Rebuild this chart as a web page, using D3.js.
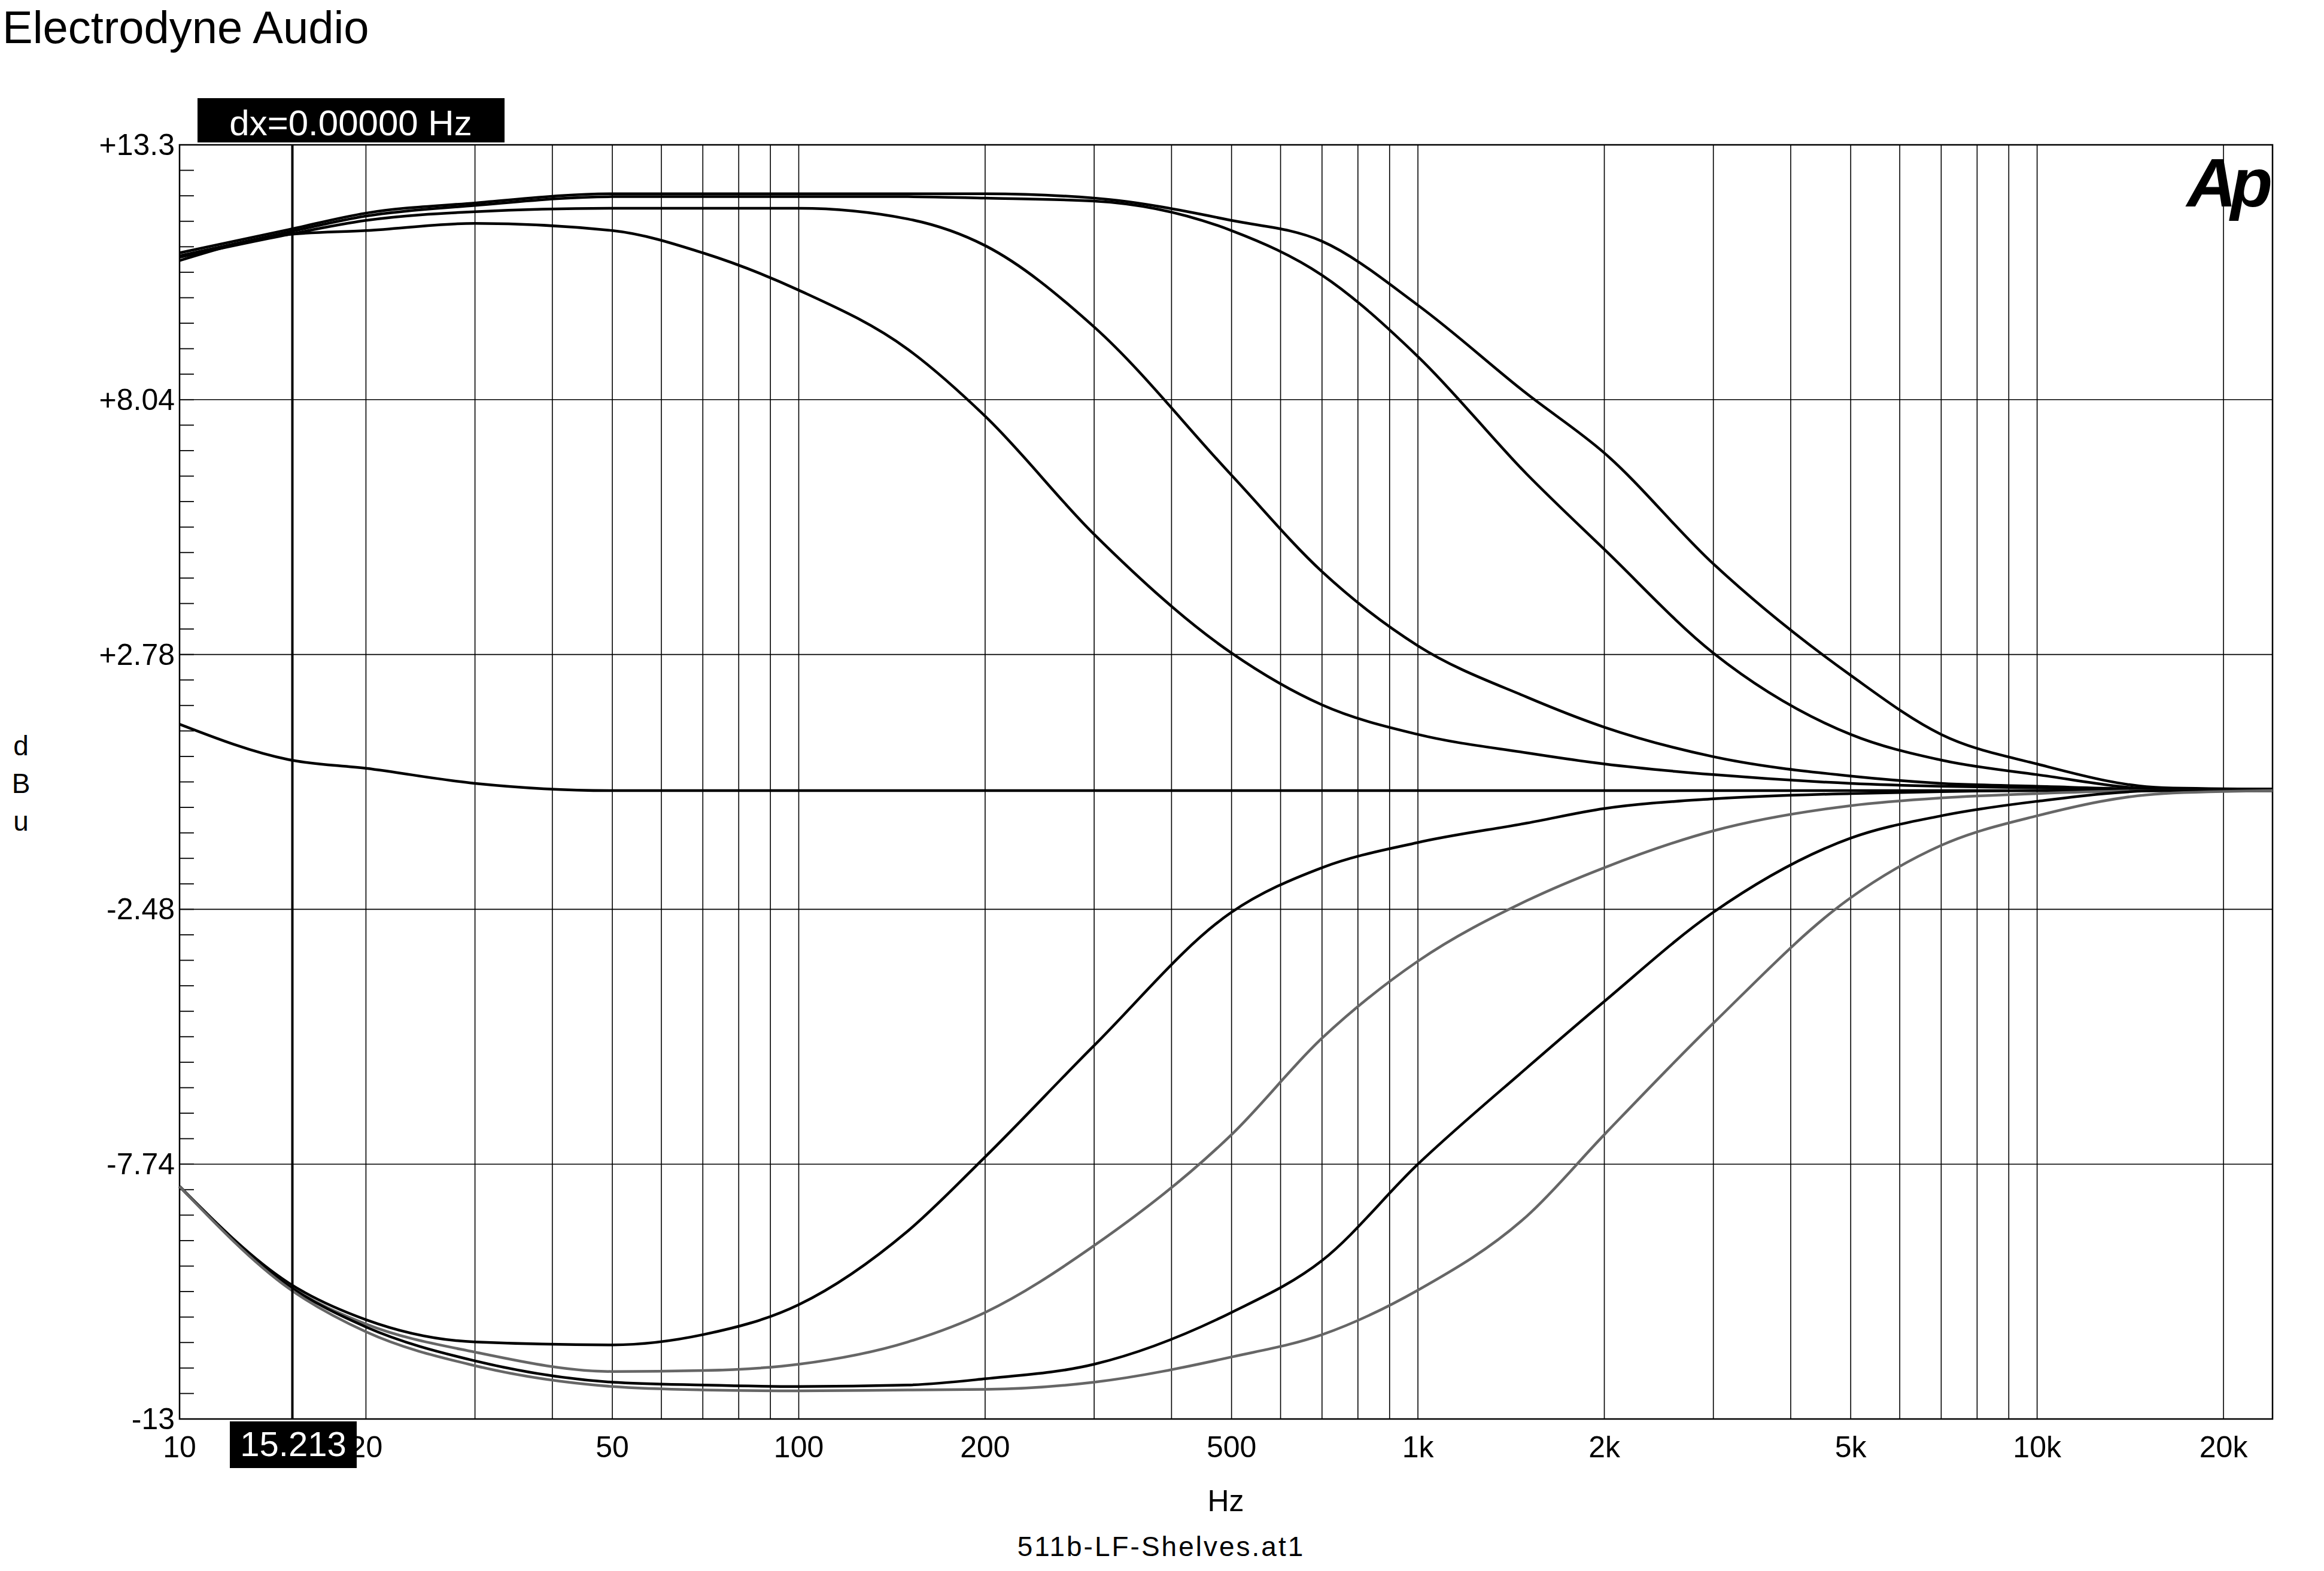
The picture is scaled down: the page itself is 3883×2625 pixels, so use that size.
<!DOCTYPE html>
<html><head><meta charset="utf-8">
<script src="https://cdn.jsdelivr.net/npm/d3@7"></script>
<style>body{margin:0;background:#fff}text{font-family:"Liberation Sans",Arial,sans-serif}</style>
</head><body>
<script>
const freqs=[10,15,20,30,50,70,100,150,200,300,500,700,1000,1500,2000,3000,5000,7000,10000,16000,24000];
// boost curves (dBu)
const boostA=[10.91,11.45,11.53,11.68,11.53,11.07,10.30,9.08,7.70,5.26,2.81,1.74,1.13,0.75,0.52,0.30,0.12,0.06,0.03,0,0];
const boostB=[10.98,11.45,11.74,11.92,11.99,11.99,11.99,11.77,11.22,9.54,6.48,4.49,2.96,1.90,1.28,0.67,0.27,0.12,0.06,0,0];
const boostC=[11.01,11.50,11.83,12.05,12.23,12.23,12.23,12.23,12.20,12.14,11.53,10.61,8.93,6.50,4.95,2.81,1.13,0.60,0.30,0,0];
const boostD=[11.07,11.55,11.89,12.10,12.29,12.29,12.29,12.29,12.29,12.20,11.74,11.31,9.99,8.16,6.94,4.65,2.35,1.13,0.52,0.03,0];
const flat=[1.34,0.61,0.43,0.12,-0.03,-0.03,-0.03,-0.03,-0.03,-0.03,-0.03,-0.03,-0.03,-0.03,-0.03,-0.03,-0.03,-0.03,-0.03,-0.03,-0.03];
const cutA=[-8.20,-10.19,-10.95,-11.41,-11.47,-11.26,-10.64,-9.12,-7.59,-5.29,-2.54,-1.62,-1.10,-0.70,-0.40,-0.20,-0.09,-0.05,-0.03,-0.03,-0.03];
const cutB=[-8.20,-10.25,-11.04,-11.62,-12.02,-12.00,-11.87,-11.41,-10.80,-9.42,-7.13,-5.14,-3.55,-2.30,-1.62,-0.86,-0.34,-0.18,-0.09,-0.03,-0.03];
const cutC=[-8.20,-10.25,-11.10,-11.80,-12.24,-12.30,-12.33,-12.30,-12.17,-11.87,-10.80,-9.73,-7.74,-5.75,-4.38,-2.54,-1.01,-0.55,-0.25,-0.03,-0.03];
const cutD=[-8.20,-10.30,-11.20,-11.90,-12.33,-12.40,-12.42,-12.40,-12.39,-12.24,-11.72,-11.26,-10.34,-8.81,-7.13,-4.83,-2.24,-1.16,-0.55,-0.09,-0.03];
const series=[{v:boostA,c:"#000"},{v:boostB,c:"#000"},{v:boostC,c:"#000"},{v:boostD,c:"#000"},{v:flat,c:"#000"},
 {v:cutA,c:"#000"},{v:cutB,c:"#666"},{v:cutC,c:"#000"},{v:cutD,c:"#666"}];
const yTicks=[13.3,8.04,2.78,-2.48,-7.74,-13];
const yTickLabels=["+13.3","+8.04","+2.78","-2.48","-7.74","-13"];
const xLabelVals=[10,20,50,100,200,500,1000,2000,5000,10000,20000];
const xLabels=["10","20","50","100","200","500","1k","2k","5k","10k","20k"];
const cursorHz=15.213;

const W=3883,H=2625,L=300,R=3797,T=242,B=2371;
const svg=d3.select("body").append("svg").attr("width",W).attr("height",H);
const x=d3.scaleLog().domain([10,24000]).range([L,R]);
const y=d3.scaleLinear().domain([-13,13.3]).range([B,T]);
const grid=[];for(let d=10;d<24000;d*=10)for(let k=1;k<10;k++){const f=d*k;if(f>10&&f<24000)grid.push(f);}
svg.selectAll(".vg").data(grid).enter().append("line").attr("x1",d=>x(d)).attr("x2",d=>x(d)).attr("y1",T).attr("y2",B).attr("stroke","#000").attr("stroke-width",1.6);
svg.selectAll(".hg").data(yTicks.slice(1,-1)).enter().append("line").attr("x1",L).attr("x2",R).attr("y1",d=>y(d)).attr("y2",d=>y(d)).attr("stroke","#000").attr("stroke-width",1.6);
const minor=d3.range(0,51).map(i=>-13+i*0.526);
svg.selectAll(".mt").data(minor).enter().append("line").attr("x1",L).attr("x2",L+24).attr("y1",d=>y(d)).attr("y2",d=>y(d)).attr("stroke","#000").attr("stroke-width",1.8);
svg.append("rect").attr("x",L).attr("y",T).attr("width",R-L).attr("height",B-T).attr("fill","none").attr("stroke","#000").attr("stroke-width",2.5);
svg.selectAll(".yl").data(yTicks).enter().append("text").attr("x",L-8).attr("y",d=>y(d)+17).attr("text-anchor","end").attr("font-size",50).text((d,i)=>yTickLabels[i]);
svg.selectAll(".xl").data(xLabelVals).enter().append("text").attr("x",d=>x(d)).attr("y",B+64).attr("text-anchor","middle").attr("font-size",50).text((d,i)=>xLabels[i]);
const line=d3.line().x((d,i)=>x(freqs[i])).y(d=>y(d)).curve(d3.curveMonotoneX);
series.forEach(s=>svg.append("path").attr("d",line(s.v)).attr("fill","none").attr("stroke",s.c).attr("stroke-width",4.5));
svg.append("line").attr("x1",x(cursorHz)).attr("x2",x(cursorHz)).attr("y1",T).attr("y2",B).attr("stroke","#000").attr("stroke-width",4);
svg.append("rect").attr("x",330).attr("y",164).attr("width",513).attr("height",74).attr("fill","#000");
svg.append("text").attr("x",586).attr("y",226).attr("text-anchor","middle").attr("font-size",60).attr("fill","#fff").text("dx=0.00000  Hz");
svg.append("rect").attr("x",384).attr("y",2375).attr("width",212).attr("height",78).attr("fill","#000");
svg.append("text").attr("x",490).attr("y",2433).attr("text-anchor","middle").attr("font-size",58).attr("fill","#fff").text(cursorHz.toFixed(3));
svg.append("text").attr("x",4).attr("y",72).attr("font-size",76).text("Electrodyne Audio");
svg.append("text").attr("x",2048).attr("y",2525).attr("text-anchor","middle").attr("font-size",50).text("Hz");
svg.append("text").attr("x",1940).attr("y",2600).attr("text-anchor","middle").attr("font-size",46).attr("letter-spacing",3).text("511b-LF-Shelves.at1");
["d","B","u"].forEach((c,i)=>svg.append("text").attr("x",35).attr("y",1262+i*63).attr("text-anchor","middle").attr("font-size",46).text(c));
svg.append("text").attr("x",3787).attr("y",345).attr("text-anchor","end").attr("font-size",115).attr("font-weight","bold").attr("font-style","italic").attr("letter-spacing",-10).text("Ap");
</script>
</body></html>
